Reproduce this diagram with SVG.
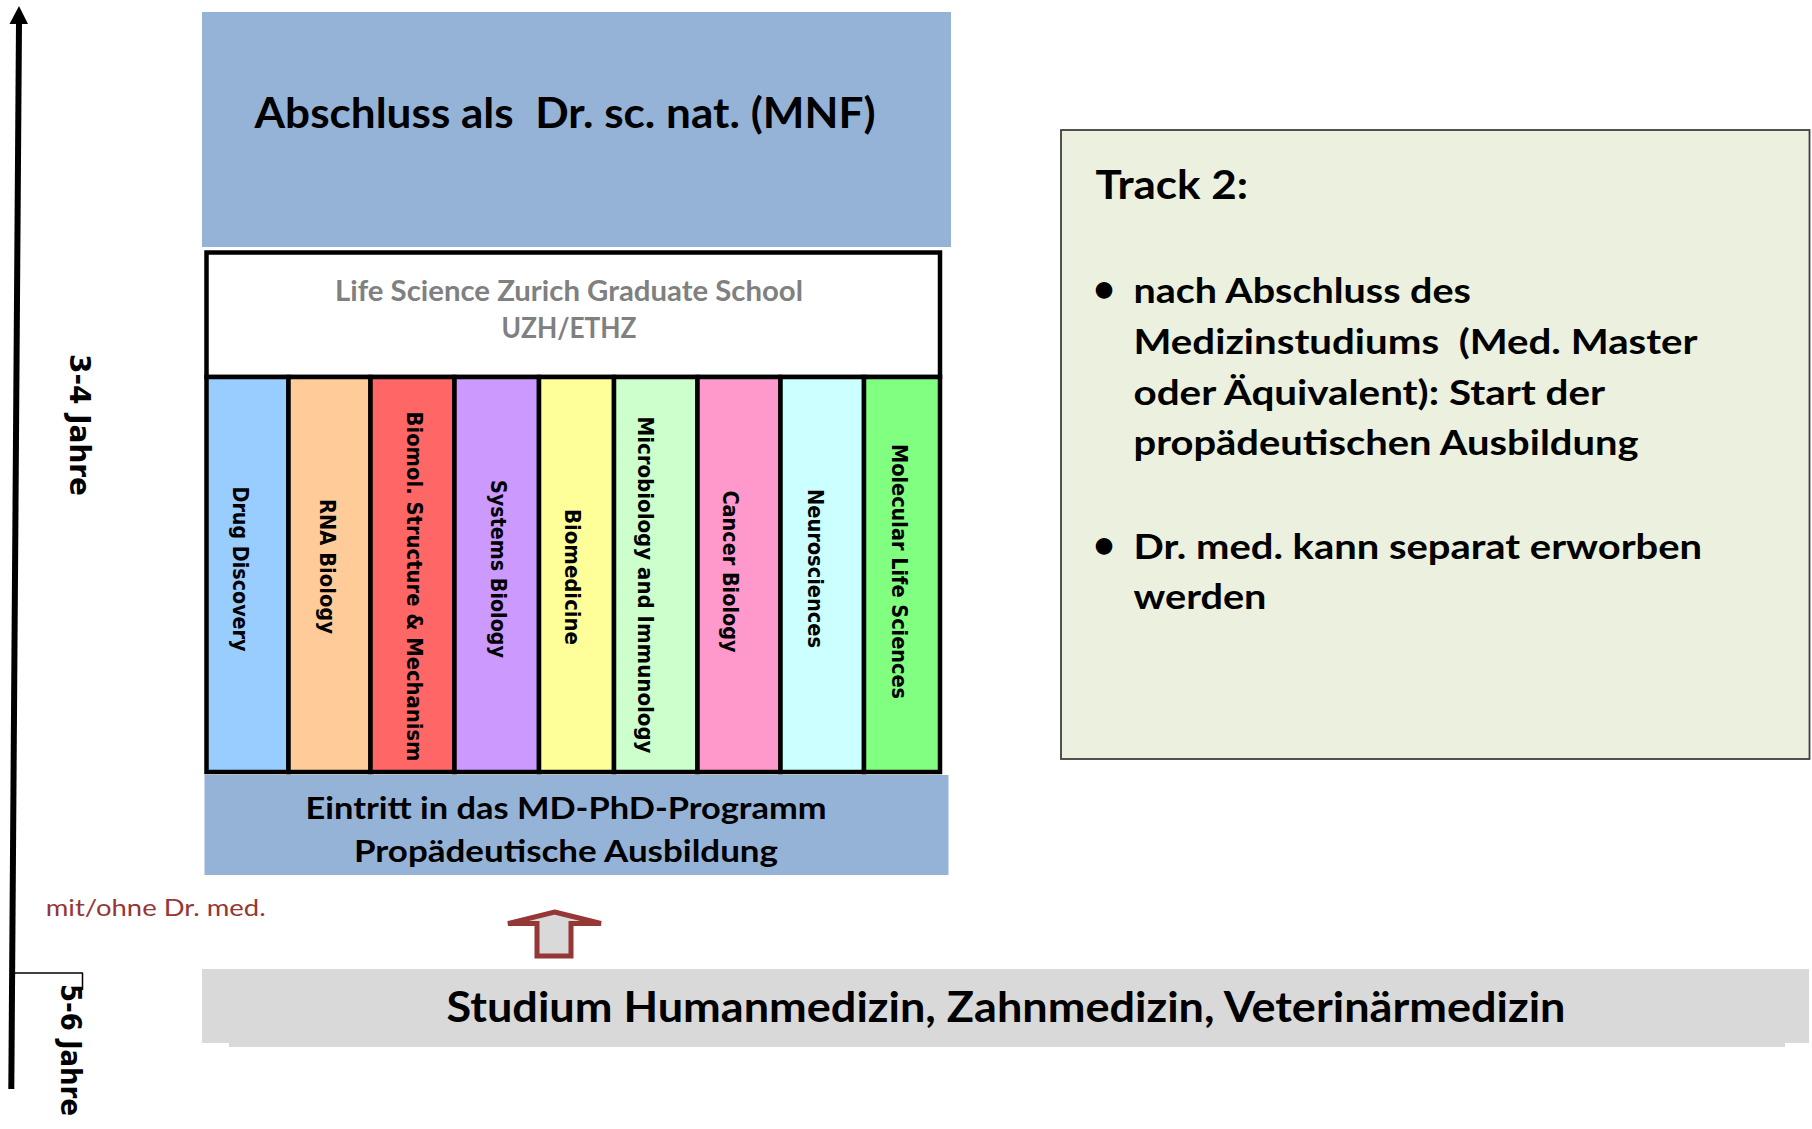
<svg xmlns="http://www.w3.org/2000/svg" width="1812" height="1129" viewBox="0 0 1812 1129">
<defs>
<style>
.c{font-family:Lato,"Liberation Sans",sans-serif;font-weight:700;fill:#000}
.v{font-family:"DejaVu Sans",Verdana,sans-serif;font-weight:700;fill:#000}
.col{stroke:#000;stroke-width:4.5}
.blue{fill:#95B3D7}
.pre{white-space:pre}
</style>
</defs>
<rect width="1812" height="1129" fill="#fff"/>

<g id="axis">
<line x1="19" y1="22" x2="11.3" y2="1089" stroke="#000" stroke-width="6"/>
<polygon points="19,6 28,24 9.5,24" fill="#000"/>
<line x1="11" y1="973" x2="83" y2="973" stroke="#000" stroke-width="1.5"/>
<line x1="82.5" y1="973" x2="82.5" y2="990" stroke="#000" stroke-width="1.5"/>
<text class="v" font-size="29" text-anchor="middle" textLength="142" lengthAdjust="spacingAndGlyphs" transform="translate(70,425) rotate(90)">3-4 Jahre</text>
<text class="v" font-size="28" text-anchor="middle" textLength="132" lengthAdjust="spacingAndGlyphs" transform="translate(61,1050) rotate(90)">5-6 Jahre</text>
</g>

<g id="abschluss">
<rect class="blue" x="202" y="12" width="749" height="235"/>
<text class="c pre" xml:space="preserve" font-size="42" text-anchor="middle" x="565" y="128" textLength="621" lengthAdjust="spacingAndGlyphs">Abschluss als  Dr. sc. nat. (MNF)</text>
</g>

<g id="graduate-school">
<rect x="206.5" y="252.5" width="733.5" height="124.5" fill="#fff" stroke="#000" stroke-width="4.5"/>
<text class="c" font-size="29" text-anchor="middle" x="569" y="300.5" style="fill:#808080" textLength="468" lengthAdjust="spacingAndGlyphs">Life Science Zurich Graduate School</text>
<text class="c" font-size="29" text-anchor="middle" x="569" y="338" style="fill:#808080" textLength="135" lengthAdjust="spacingAndGlyphs">UZH/ETHZ</text>
</g>

<g id="programs">
<g id="drug-discovery"><rect class="col" x="206.5" y="377" width="82" height="395" fill="#99CCFF"/>
<text class="v" font-size="20.5" text-anchor="middle" textLength="165" lengthAdjust="spacingAndGlyphs" transform="translate(232.5,569) rotate(90)">Drug Discovery</text></g>
<g id="rna-biology"><rect class="col" x="288.5" y="377" width="82" height="395" fill="#FFCC99"/>
<text class="v" font-size="20.5" text-anchor="middle" textLength="135" lengthAdjust="spacingAndGlyphs" transform="translate(319.5,566.5) rotate(90)">RNA Biology</text></g>
<g id="biomol"><rect class="col" x="370.5" y="377" width="84" height="395" fill="#FF6666"/>
<text class="v" font-size="20.5" text-anchor="middle" textLength="350" lengthAdjust="spacingAndGlyphs" transform="translate(407,586.5) rotate(90)">Biomol. Structure &amp; Mechanism</text></g>
<g id="systems-biology"><rect class="col" x="454.5" y="377" width="84.5" height="395" fill="#CC99FF"/>
<text class="v" font-size="20.5" text-anchor="middle" textLength="178" lengthAdjust="spacingAndGlyphs" transform="translate(491,569) rotate(90)">Systems Biology</text></g>
<g id="biomedicine"><rect class="col" x="539" y="377" width="75" height="395" fill="#FFFF99"/>
<text class="v" font-size="20.5" text-anchor="middle" textLength="136" lengthAdjust="spacingAndGlyphs" transform="translate(565,577) rotate(90)">Biomedicine</text></g>
<g id="microbiology"><rect class="col" x="614" y="377" width="83.5" height="395" fill="#CCFFCC"/>
<text class="v" font-size="20.5" text-anchor="middle" textLength="337" lengthAdjust="spacingAndGlyphs" transform="translate(638,585) rotate(90)">Microbiology and Immunology</text></g>
<g id="cancer-biology"><rect class="col" x="697.5" y="377" width="83" height="395" fill="#FF99CC"/>
<text class="v" font-size="20.5" text-anchor="middle" textLength="162" lengthAdjust="spacingAndGlyphs" transform="translate(722.5,571.5) rotate(90)">Cancer Biology</text></g>
<g id="neurosciences"><rect class="col" x="780.5" y="377" width="83.5" height="395" fill="#CCFFFF"/>
<text class="v" font-size="20.5" text-anchor="middle" textLength="159" lengthAdjust="spacingAndGlyphs" transform="translate(807.5,568.5) rotate(90)">Neurosciences</text></g>
<g id="molecular-life-sciences"><rect class="col" x="864" y="377" width="76" height="395" fill="#80FF80"/>
<text class="v" font-size="20.5" text-anchor="middle" textLength="255" lengthAdjust="spacingAndGlyphs" transform="translate(892,571.5) rotate(90)">Molecular Life Sciences</text></g>
</g>

<g id="eintritt">
<rect class="blue" x="204.5" y="775" width="744" height="100"/>
<text class="c" font-size="31" text-anchor="middle" x="566" y="819" textLength="521" lengthAdjust="spacingAndGlyphs">Eintritt in das MD-PhD-Programm</text>
<text class="c" font-size="31" text-anchor="middle" x="566" y="862" textLength="424" lengthAdjust="spacingAndGlyphs">Propädeutische Ausbildung</text>
</g>

<g id="mit-ohne">
<text x="45.7" y="916" font-family="Lato,'Liberation Sans',sans-serif" font-size="24" fill="#953735" textLength="220" lengthAdjust="spacingAndGlyphs">mit/ohne Dr. med.</text>
</g>

<g id="connectors">
<polygon points="554.5,912 601,923.5 571,923.5 571,956 537,956 537,923.5 508,923.5" fill="#D9D9D9" stroke="#953735" stroke-width="5" stroke-linejoin="miter"/>
</g>

<g id="studium">
<rect x="229" y="1000" width="1556" height="47" fill="#D9D9D9"/>
<rect x="202" y="969" width="1607" height="74" fill="#D9D9D9"/>
<text class="c" font-size="42" text-anchor="middle" x="1006" y="1021.7" textLength="1119" lengthAdjust="spacingAndGlyphs">Studium Humanmedizin, Zahnmedizin, Veterinärmedizin</text>
</g>

<g id="track2">
<rect x="1061" y="130" width="748.5" height="629" fill="#EBF1DE" stroke="#404040" stroke-width="1.8"/>
<text class="c" font-size="41" x="1095.5" y="198.5" textLength="152.5" lengthAdjust="spacingAndGlyphs">Track 2:</text>
<text class="c" font-size="38" x="1093" y="302">•</text>
<text class="c" font-size="35" x="1133.5" y="303" textLength="337.4" lengthAdjust="spacingAndGlyphs">nach Abschluss des</text>
<text class="c pre" xml:space="preserve" font-size="35" x="1133.5" y="353.6" textLength="564" lengthAdjust="spacingAndGlyphs">Medizinstudiums  (Med. Master</text>
<text class="c" font-size="35" x="1133.5" y="404.5" textLength="471.5" lengthAdjust="spacingAndGlyphs">oder Äquivalent): Start der</text>
<text class="c" font-size="35" x="1133.5" y="455.3" textLength="505" lengthAdjust="spacingAndGlyphs">propädeutischen Ausbildung</text>
<text class="c" font-size="38" x="1093" y="558">•</text>
<text class="c" font-size="35" x="1133.5" y="559.3" textLength="568.6" lengthAdjust="spacingAndGlyphs">Dr. med. kann separat erworben</text>
<text class="c" font-size="35" x="1133.5" y="609" textLength="133" lengthAdjust="spacingAndGlyphs">werden</text>
</g>
</svg>
